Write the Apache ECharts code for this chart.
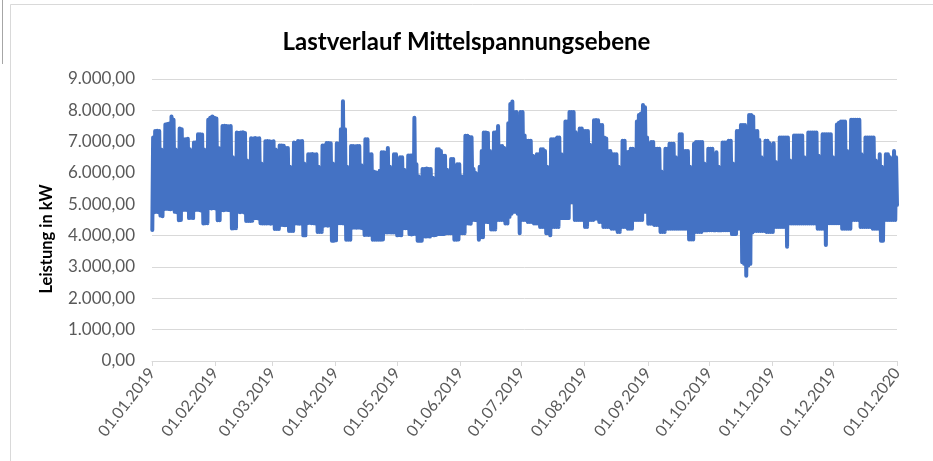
<!DOCTYPE html>
<html>
<head>
<meta charset="utf-8">
<script src="https://cdn.jsdelivr.net/npm/echarts@6/dist/echarts.min.js"></script>
<style>
html,body{margin:0;padding:0;background:#fff;}
#chart{width:933px;height:461px;}
</style>
</head>
<body>
<div id="chart"></div>
<script>
// ---- DATA ----
const chartTitle = 'Lastverlauf Mittelspannungsebene';
const yAxisTitle = 'Leistung in kW';
const xTickLabels = ['01.01.2019','01.02.2019','01.03.2019','01.04.2019','01.05.2019','01.06.2019','01.07.2019','01.08.2019','01.09.2019','01.10.2019','01.11.2019','01.12.2019','01.01.2020'];
const yTickLabels = ['0,00','1.000,00','2.000,00','3.000,00','4.000,00','5.000,00','6.000,00','7.000,00','8.000,00','9.000,00'];

// daily maximum load (kW), 01.01.2019 .. 31.12.2019
const dailyHigh = [
7130,7340,7350,7340,6750,6600,
7550,7560,7580,7800,7700,6750,6700,
7420,7400,7080,7080,7090,6760,6700,
6970,6980,7240,7240,7230,6750,6700,
7700,7760,7800,7760,7740,6800,6780,
7500,7510,7500,7490,7500,6500,6450,
7290,7280,7290,7300,7280,6400,6350,
7110,7100,7120,7100,7110,6300,6250,
7010,7020,7010,7000,7010,6750,6700,
6880,6880,6870,6800,6800,6200,6150,
6970,6960,7020,7010,7020,6300,6250,
6600,6600,6610,6590,6600,6200,6150,
6880,6880,6960,6960,6950,6300,6250,
6950,6940,7400,8290,7400,6200,6150,
6860,6860,6850,6860,6860,6250,6200,
7080,7080,6600,6600,6050,6020,6000,
6070,6660,6660,6650,6800,6200,6150,
6600,6600,6100,6500,6500,6100,6050,
6560,6560,6570,7760,6280,5900,5850,
6130,6130,6140,6130,6130,5850,5800,
6760,6760,6700,6550,6550,6100,6050,
6450,6450,6000,6280,6280,5900,5850,
7190,7190,7150,7140,6130,6000,5950,
6200,6700,7290,7290,7280,6700,6650,
7290,7300,7500,6860,6860,6800,6750,
7590,8200,8280,7950,7950,7300,7950,
7950,7200,7030,7030,7030,6550,6500,
6600,6600,6760,6760,6700,6200,6150,
7080,7080,7080,7130,7130,6600,6550,
7640,7640,7950,7950,7950,7300,6900,
7420,7420,7340,7340,7340,6900,6850,
7680,7690,7680,7530,7530,7130,7100,
6700,6700,6600,6600,6600,6200,6150,
7030,7030,6670,6670,6770,6770,6700,
7640,7850,7900,8170,8100,7130,6800,
6990,6990,6770,6770,6770,6050,6000,
6770,6770,6930,6930,6930,6500,6450,
7240,7240,6700,6700,6700,6200,6150,
6930,6990,6990,6990,6990,6300,6250,
6770,6770,6770,6200,6660,6200,6150,
6970,6970,6970,7030,7030,6300,6250,
7340,7340,7530,7530,7530,7300,7850,
7850,7800,7340,7340,7050,6500,6450,
7030,7030,6950,6600,6950,6350,6300,
7130,7130,7130,7130,7130,6400,6350,
7200,7200,7200,7200,7200,6500,6450,
7290,7290,7290,7290,7290,6550,6500,
7240,7240,7240,7240,7240,6500,6450,
7550,7600,7640,7640,7640,6700,6650,
7700,7700,7700,7700,7700,6600,6550,
7130,7130,7130,7130,7130,6400,6350,
6600,6200,6100,6600,6600,6500,6450,
6700,6500
];

// daily minimum load (kW), 01.01.2019 .. 31.12.2019
const dailyLow = [
4180,4750,4760,4750,4640,4620,
4850,4860,4850,4840,4860,4760,4750,
4490,4500,4820,4830,4820,4560,4570,
4560,4820,4830,4820,4800,4390,4400,
4400,4880,4870,4880,4870,4490,4490,
4820,4810,4830,4820,4810,4230,4240,
4240,4760,4750,4760,4740,4470,4470,
4470,4480,4560,4560,4550,4400,4390,
4390,4390,4400,4380,4400,4210,4210,
4210,4340,4340,4330,4340,4150,4150,
4150,4390,4390,4380,4390,4010,4010,
4400,4410,4400,4400,4390,4120,4120,
4120,4320,4330,4320,4330,3840,3840,
3850,4400,4400,4400,4390,3870,3870,
3870,4250,4260,4250,4260,4250,4240,
4020,4030,4020,4030,3870,3870,3870,
3870,3870,3880,4110,4100,4110,4100,
4100,4100,4010,4020,4010,4240,4240,
4240,4050,4040,4050,4050,3840,3840,
3840,3980,3970,3980,3970,4020,4010,
4020,4050,4050,4050,4050,4080,4080,
4080,4080,3870,3870,3880,4080,4080,
4080,4390,4390,4380,4500,4500,4490,
3870,3950,3950,4440,4440,4430,4200,
4200,4200,4500,4500,4500,4500,4390,
4390,4600,4700,4760,4760,4700,4080,
4500,4500,4500,4440,4440,4440,4390,
4390,4390,4280,4280,4280,4080,4080,
4010,4280,4280,4280,4280,4560,4560,
4560,4560,4560,5070,5070,4500,4500,
4500,4500,4500,4280,4280,4500,4500,
4500,4540,4540,4440,4440,4280,4280,
4280,4280,4220,4220,4220,4120,4120,
4280,4280,4280,4220,4220,4220,4500,
4500,4500,4500,4500,4760,4760,4380,
4380,4380,4340,4340,4340,4120,4120,
4120,4220,4220,4220,4220,4220,4220,
4220,4220,4220,4220,4220,3880,3880,
3880,4120,4120,4120,4120,4170,4170,
4170,4170,4170,4170,4170,4170,4170,
4170,4170,4170,4170,4170,4050,4050,
4050,4220,4220,3150,3100,2720,3050,
3100,4100,4150,4150,4150,4150,4150,
4150,4120,4120,4120,4120,4280,4280,
4280,4280,4280,4280,3650,4400,4390,
4390,4390,4390,4390,4390,4390,4390,
4390,4390,4390,4390,4390,4220,4220,
4220,4220,3700,4400,4400,4400,4400,
4400,4400,4400,4220,4220,4220,4220,
4220,4500,4500,4500,4500,4280,4280,
4280,4280,4280,4280,4220,4220,4220,
4220,3840,3840,4500,4500,4500,4500,
4500,4500
];
const finalValue = 4980; // 01.01.2020 00:00

// ---- BUILD ----
const DAY = 86400000;
const t0 = Date.UTC(2019, 0, 1);
function dayOf(label) {
  const p = label.split('.');
  return (Date.UTC(+p[2], +p[1] - 1, +p[0]) - t0) / DAY;
}
const tickDays = xTickLabels.map(dayOf);
const labelByDay = {};
tickDays.forEach((d, i) => { labelByDay[d] = xTickLabels[i]; });

const seriesData = [];
for (let d = 0; d < dailyHigh.length; d++) {
  seriesData.push([d + 0.15, dailyLow[d]]);
  seriesData.push([d + 0.55, dailyHigh[d]]);
}
seriesData.push([tickDays[tickDays.length - 1], finalValue]);

const fontFam = 'Lato, "Open Sans", sans-serif';
const chart = echarts.init(document.getElementById('chart'), null, {renderer: 'canvas'});
chart.setOption({
  animation: false,
  backgroundColor: '#ffffff',
  title: {
    text: chartTitle,
    left: 'center',
    top: 25,
    textStyle: {fontFamily: fontFam, fontWeight: 'bold', fontSize: 24, color: '#000000'}
  },
  grid: {left: 152, right: 36, top: 79, bottom: 100, containLabel: false},
  xAxis: {
    type: 'value',
    min: tickDays[0],
    max: tickDays[tickDays.length - 1],
    splitLine: {show: false},
    axisLine: {show: true, lineStyle: {color: '#d9d9d9', width: 1}},
    axisTick: {show: true, customValues: tickDays, length: 5, lineStyle: {color: '#d9d9d9'}},
    axisLabel: {
      customValues: tickDays,
      formatter: v => labelByDay[v] || '',
      rotate: 52,
      margin: 9,
      color: '#595959',
      fontFamily: fontFam,
      fontSize: 16
    }
  },
  yAxis: {
    type: 'value',
    min: 0,
    max: 9000,
    interval: 1000,
    axisLine: {show: false},
    axisTick: {show: false},
    splitLine: {show: true, lineStyle: {color: '#d9d9d9', width: 1}},
    axisLabel: {
      formatter: v => yTickLabels[Math.round(v / 1000)],
      margin: 17,
      color: '#595959',
      fontFamily: fontFam,
      fontSize: 17
    }
  },
  graphic: [
    {type: 'rect', shape: {x: 10.5, y: 4.5, width: 940, height: 470}, style: {fill: 'none', stroke: '#d9d9d9', lineWidth: 1}, silent: true, z: -1},
    {type: 'rect', shape: {x: 2, y: 0, width: 1, height: 64}, style: {fill: '#a6a6a6'}, silent: true},
    {type: 'text', x: 47, y: 239, rotation: Math.PI / 2,
     style: {text: yAxisTitle, fontFamily: fontFam, fontWeight: 'bold', fontSize: 16.5, fill: '#000000', align: 'center', verticalAlign: 'middle'}}
  ],
  series: [{
    type: 'line',
    data: seriesData,
    showSymbol: false,
    symbol: 'none',
    sampling: null,
    large: false,
    lineStyle: {color: '#4472c4', width: 4, cap: 'round', join: 'round'},
    z: 2
  }]
});
</script>
</body>
</html>
